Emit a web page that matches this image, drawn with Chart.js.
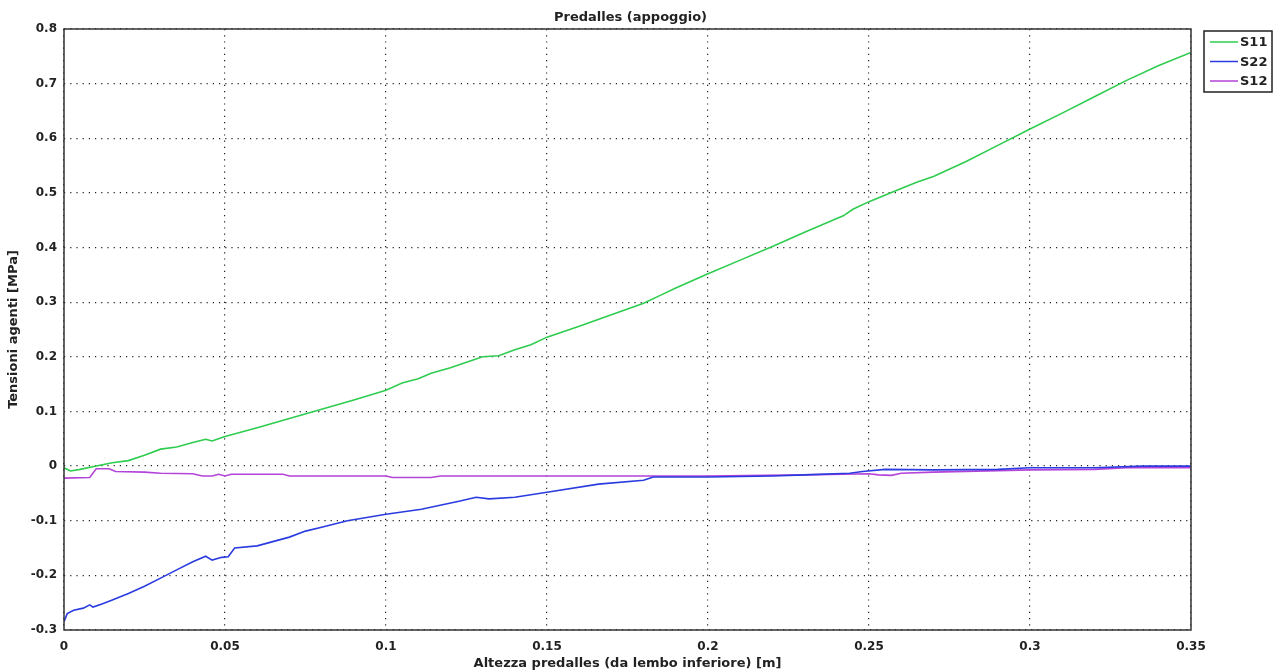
<!DOCTYPE html>
<html>
<head>
<meta charset="utf-8">
<script src="https://cdn.jsdelivr.net/npm/chart.js@4/dist/chart.umd.min.js"></script>
<style>
    body { margin: 0; background: #fff; }
    canvas { display: block; }
</style>
</head>
<body>
<canvas id="predalles" width="1281" height="672"></canvas>
<script>

const s11X = [0, 0.002, 0.005, 0.01, 0.015, 0.02, 0.025, 0.03, 0.035, 0.04, 0.044, 0.046, 0.05, 0.06, 0.07, 0.08, 0.09, 0.1, 0.105, 0.11, 0.114, 0.12, 0.125, 0.13, 0.135, 0.14, 0.145, 0.15, 0.16, 0.17, 0.18, 0.185, 0.19, 0.2, 0.21, 0.22, 0.23, 0.24, 0.242, 0.245, 0.25, 0.26, 0.265, 0.27, 0.28, 0.29, 0.3, 0.31, 0.32, 0.33, 0.34, 0.35]
const s11Y = [-0.003, -0.009, -0.006, 0.0, 0.006, 0.01, 0.02, 0.031, 0.035, 0.043, 0.049, 0.046, 0.054, 0.07, 0.087, 0.104, 0.121, 0.139, 0.152, 0.16, 0.17, 0.18, 0.19, 0.2, 0.202, 0.213, 0.222, 0.236, 0.256, 0.277, 0.298, 0.312, 0.326, 0.352, 0.377, 0.402, 0.428, 0.453, 0.458, 0.47, 0.484, 0.508, 0.52, 0.53, 0.557, 0.587, 0.617, 0.646, 0.676, 0.706, 0.733, 0.757]

const s22X = [0, 0.001, 0.003, 0.006, 0.008, 0.009, 0.012, 0.015, 0.02, 0.025, 0.03, 0.035, 0.04, 0.044, 0.046, 0.049, 0.051, 0.053, 0.06, 0.07, 0.075, 0.08, 0.088, 0.1, 0.111, 0.123, 0.128, 0.132, 0.14, 0.15, 0.166, 0.18, 0.183, 0.2, 0.21, 0.22, 0.23, 0.244, 0.248, 0.255, 0.27, 0.29, 0.3, 0.32, 0.335, 0.35]
const s22Y = [-0.285, -0.27, -0.264, -0.26, -0.254, -0.258, -0.252, -0.245, -0.233, -0.22, -0.205, -0.19, -0.175, -0.165, -0.172, -0.167, -0.166, -0.15, -0.146, -0.13, -0.119, -0.112, -0.1, -0.088, -0.079, -0.064, -0.057, -0.06, -0.057, -0.048, -0.033, -0.026, -0.02, -0.02, -0.019, -0.018, -0.016, -0.013, -0.01, -0.006, -0.007, -0.006, -0.003, -0.003, 0.0, 0.0]

const s12X = [0, 0.008, 0.01, 0.014, 0.016, 0.025, 0.03, 0.04, 0.043, 0.046, 0.048, 0.05, 0.052, 0.068, 0.07, 0.1, 0.102, 0.114, 0.117, 0.2, 0.23, 0.25, 0.253, 0.257, 0.26, 0.27, 0.3, 0.32, 0.33, 0.35]
const s12Y = [-0.022, -0.021, -0.005, -0.005, -0.01, -0.011, -0.013, -0.014, -0.018, -0.018, -0.015, -0.018, -0.015, -0.015, -0.018, -0.018, -0.021, -0.021, -0.018, -0.018, -0.016, -0.014, -0.016, -0.017, -0.013, -0.011, -0.007, -0.006, -0.003, -0.003]

const seriesNames = ['S11', 'S22', 'S12']
const seriesColors = ['#2ecc4f', '#2a3be0', '#b443d9']

const FONT = 'DejaVu Sans'

function points(xs, ys) {
    return xs.map((x, i) => ({ x: x, y: ys[i] }))
}

function formatTick(v) {
    return String(Math.round(v * 1000) / 1000)
}

// title, frame and boxed legend drawn by hand
const framePlugin = {
    id: 'frame',
    afterDraw(chart) {
        const ctx = chart.ctx
        const area = chart.chartArea
        ctx.save()
        ctx.strokeStyle = '#333'
        ctx.lineWidth = 1.5
        ctx.strokeRect(area.left, area.top, area.right - area.left, area.bottom - area.top)

        ctx.fillStyle = '#222'
        ctx.font = 'bold 13px ' + FONT
        ctx.textAlign = 'center'
        ctx.textBaseline = 'middle'
        ctx.fillText('Predalles (appoggio)', (area.left + area.right) / 2 + 3, 18)

        ctx.strokeStyle = '#222'
        ctx.lineWidth = 1.5
        ctx.strokeRect(1204, 31, 68, 61)
        ctx.font = 'bold 13px ' + FONT
        ctx.textAlign = 'left'
        seriesNames.forEach((name, i) => {
            const y = 42 + i * 19.5
            ctx.strokeStyle = seriesColors[i]
            ctx.beginPath()
            ctx.moveTo(1210, y)
            ctx.lineTo(1238, y)
            ctx.stroke()
            ctx.fillStyle = '#222'
            ctx.fillText(name, 1240, y + 1)
        })
        ctx.restore()
    }
}

new Chart(document.getElementById('predalles').getContext('2d'), {
    type: 'line',
    data: {
        datasets: [
            { label: seriesNames[0], data: points(s11X, s11Y), borderColor: seriesColors[0] },
            { label: seriesNames[1], data: points(s22X, s22Y), borderColor: seriesColors[1] },
            { label: seriesNames[2], data: points(s12X, s12Y), borderColor: seriesColors[2] }
        ]
    },
    options: {
        responsive: false,
        animation: false,
        parsing: false,
        elements: {
            line: { borderWidth: 1.6, tension: 0 },
            point: { radius: 0 }
        },
        layout: { padding: { top: 29, right: 90, left: 0, bottom: 0 } },
        plugins: {
            legend: { display: false },
            title: { display: false },
            tooltip: { enabled: false }
        },
        scales: {
            x: {
                type: 'linear',
                min: 0,
                max: 0.35,
                afterFit: s => { s.height = 42 },
                ticks: {
                    stepSize: 0.05,
                    padding: 10,
                    color: '#222',
                    font: { family: FONT, size: 12, weight: 'bold' },
                    callback: formatTick,
                    maxRotation: 0
                },
                grid: { color: '#222', lineWidth: 1.2, drawTicks: false },
                border: { display: false, dash: [1.2, 5] },
                title: {
                    display: true,
                    text: 'Altezza predalles (da lembo inferiore) [m]',
                    color: '#222',
                    font: { family: FONT, size: 13, weight: 'bold' },
                    padding: { top: 0, bottom: 1 }
                }
            },
            y: {
                type: 'linear',
                min: -0.3,
                max: 0.8,
                afterFit: s => { s.width = 64 },
                ticks: {
                    stepSize: 0.1,
                    padding: 7,
                    color: '#222',
                    font: { family: FONT, size: 12, weight: 'bold' },
                    callback: formatTick
                },
                grid: { color: '#222', lineWidth: 1.2, drawTicks: false },
                border: { display: false, dash: [1.2, 5] },
                title: {
                    display: true,
                    text: 'Tensioni agenti [MPa]',
                    color: '#222',
                    font: { family: FONT, size: 13, weight: 'bold' },
                    padding: { top: 6, bottom: 0 }
                }
            }
        }
    },
    plugins: [framePlugin]
})
</script>
</body>
</html>
